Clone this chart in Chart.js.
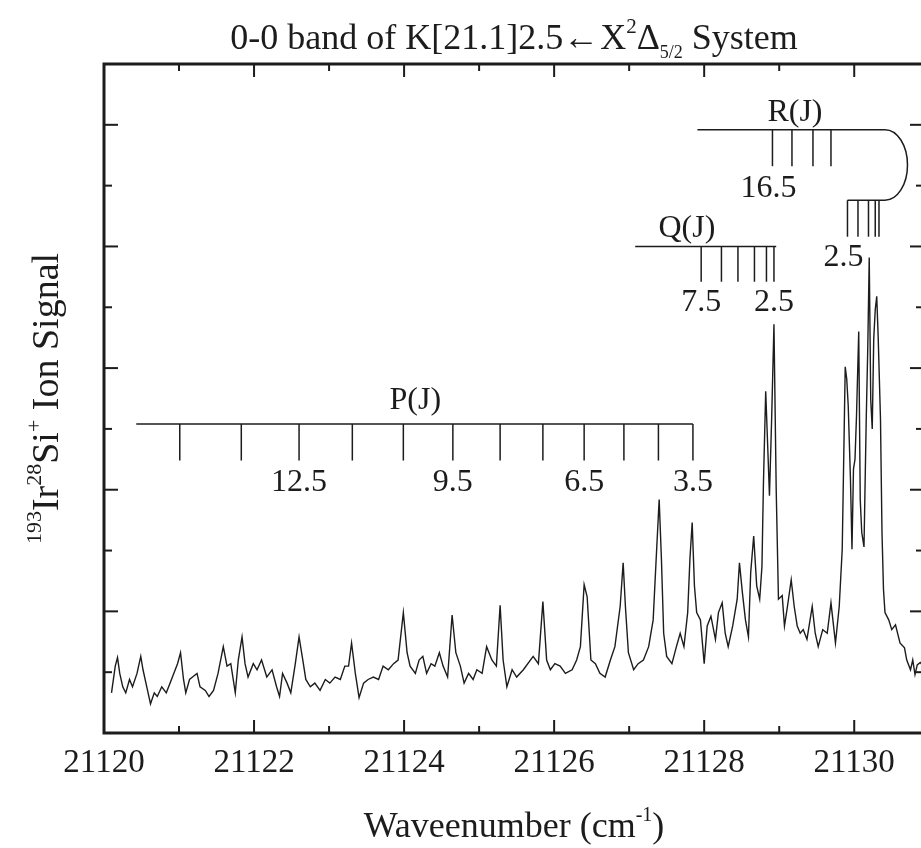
<!DOCTYPE html>
<html>
<head>
<meta charset="utf-8">
<script src="https://cdn.jsdelivr.net/npm/chart.js@4.4.1/dist/chart.umd.min.js"></script>
<style>
  html, body { margin: 0; padding: 0; background: #fff; overflow: hidden; }
  #wrap { width: 930px; height: 848px; }
</style>
</head>
<body>
<div id="wrap"><canvas id="spectrum" width="930" height="848"></canvas></div>
<script>
// spectrum (wavenumber in cm-1, signal in arbitrary units)
const waveNumber = [
  21120.10, 21120.15, 21120.18, 21120.21, 21120.25, 21120.29, 21120.34, 21120.38, 21120.44, 21120.49,
  21120.52, 21120.57, 21120.62, 21120.67, 21120.71, 21120.77, 21120.83, 21120.88, 21120.93, 21120.98,
  21121.02, 21121.06, 21121.09, 21121.14, 21121.18, 21121.24, 21121.28, 21121.35, 21121.40, 21121.46,
  21121.52, 21121.59, 21121.64, 21121.69, 21121.75, 21121.79, 21121.84, 21121.88, 21121.92, 21121.99,
  21122.04, 21122.10, 21122.17, 21122.24, 21122.30, 21122.34, 21122.38, 21122.44, 21122.49, 21122.55,
  21122.60, 21122.65, 21122.69, 21122.75, 21122.81, 21122.88, 21122.95, 21123.01, 21123.08, 21123.15,
  21123.21, 21123.26, 21123.30, 21123.35, 21123.40, 21123.46, 21123.52, 21123.59, 21123.66, 21123.72,
  21123.79, 21123.86, 21123.92, 21123.99, 21124.04, 21124.08, 21124.15, 21124.20, 21124.25, 21124.30,
  21124.36, 21124.41, 21124.47, 21124.52, 21124.58, 21124.64, 21124.69, 21124.75, 21124.80, 21124.86,
  21124.92, 21124.97, 21125.04, 21125.10, 21125.17, 21125.23, 21125.28, 21125.32, 21125.37, 21125.44,
  21125.50, 21125.59, 21125.72, 21125.79, 21125.85, 21125.90, 21125.95, 21126.01, 21126.08, 21126.15,
  21126.24, 21126.30, 21126.35, 21126.40, 21126.44, 21126.49, 21126.55, 21126.61, 21126.68, 21126.75,
  21126.81, 21126.88, 21126.92, 21126.95, 21126.99, 21127.06, 21127.12, 21127.19, 21127.26, 21127.32,
  21127.36, 21127.40, 21127.43, 21127.46, 21127.50, 21127.57, 21127.63, 21127.68, 21127.73, 21127.78,
  21127.81, 21127.84, 21127.87, 21127.90, 21127.95, 21128.00, 21128.04, 21128.09, 21128.15, 21128.19,
  21128.24, 21128.28, 21128.32, 21128.38, 21128.44, 21128.47, 21128.51, 21128.55, 21128.59, 21128.62,
  21128.66, 21128.70, 21128.74, 21128.77, 21128.79, 21128.82, 21128.85, 21128.87, 21128.90, 21128.93,
  21128.96, 21128.99, 21129.04, 21129.07, 21129.11, 21129.16, 21129.20, 21129.24, 21129.28, 21129.32,
  21129.37, 21129.44, 21129.48, 21129.52, 21129.58, 21129.64, 21129.69, 21129.75, 21129.80, 21129.84,
  21129.88, 21129.90, 21129.92, 21129.95, 21129.97, 21129.99, 21130.01, 21130.03, 21130.06, 21130.08,
  21130.10, 21130.13, 21130.16, 21130.18, 21130.20, 21130.22, 21130.24, 21130.26, 21130.28, 21130.30,
  21130.32, 21130.35, 21130.37, 21130.39, 21130.41, 21130.46, 21130.50, 21130.55, 21130.61, 21130.67,
  21130.70, 21130.75, 21130.78, 21130.81, 21130.84, 21130.88, 21130.92, 21130.96
];
const ionSignal = [
  0.33, 0.55, 0.62, 0.49, 0.38, 0.33, 0.44, 0.38, 0.49, 0.63,
  0.52, 0.38, 0.24, 0.33, 0.30, 0.38, 0.33, 0.41, 0.49, 0.57,
  0.66, 0.44, 0.33, 0.44, 0.46, 0.49, 0.38, 0.35, 0.30, 0.35,
  0.49, 0.71, 0.55, 0.57, 0.33, 0.60, 0.79, 0.57, 0.46, 0.57,
  0.52, 0.60, 0.46, 0.52, 0.38, 0.30, 0.49, 0.41, 0.33, 0.57,
  0.79, 0.60, 0.44, 0.38, 0.41, 0.35, 0.44, 0.41, 0.46, 0.44,
  0.55, 0.55, 0.74, 0.49, 0.29, 0.41, 0.44, 0.46, 0.44, 0.55,
  0.52, 0.57, 0.60, 0.99, 0.66, 0.55, 0.49, 0.60, 0.63, 0.49,
  0.57, 0.55, 0.66, 0.55, 0.46, 0.97, 0.66, 0.55, 0.41, 0.49,
  0.44, 0.52, 0.49, 0.71, 0.60, 0.55, 1.05, 0.60, 0.38, 0.52,
  0.46, 0.52, 0.63, 0.57, 1.08, 0.60, 0.52, 0.57, 0.55, 0.49,
  0.52, 0.60, 0.71, 1.22, 1.12, 0.60, 0.57, 0.49, 0.46, 0.60,
  0.71, 1.04, 1.40, 1.04, 0.66, 0.52, 0.57, 0.60, 0.71, 0.93,
  1.43, 1.92, 1.43, 0.82, 0.63, 0.57, 0.71, 0.82, 0.71, 0.99,
  1.43, 1.73, 1.21, 0.99, 0.93, 0.57, 0.88, 0.96, 0.77, 0.99,
  1.07, 0.82, 0.71, 0.88, 1.10, 1.40, 1.15, 0.93, 0.79, 1.32,
  1.62, 1.21, 1.10, 1.37, 2.06, 2.81, 2.30, 1.95, 2.60, 3.36,
  2.00, 1.10, 1.13, 0.88, 1.04, 1.26, 1.04, 0.88, 0.82, 0.85,
  0.77, 1.04, 0.82, 0.71, 0.85, 0.82, 1.07, 0.74, 1.04, 1.51,
  3.01, 2.91, 2.69, 2.08, 1.51, 2.17, 2.25, 2.60, 3.30, 1.92,
  1.65, 1.53, 2.58, 3.15, 3.91, 2.74, 2.50, 3.24, 3.48, 3.59,
  3.24, 2.58, 1.65, 1.18, 0.99, 0.93, 0.85, 0.89, 0.74, 0.70,
  0.60, 0.52, 0.60, 0.48, 0.56, 0.58, 0.55, 0.50
];

// axis ticks (no labels on the signal axis)
const xMajorTicks = [21120, 21122, 21124, 21126, 21128, 21130];
const xMinorTicks = [21121, 21123, 21125, 21127, 21129];
const yMajorTicks = [0, 1, 2, 3, 4, 5];
const yMinorTicks = [0.5, 1.5, 2.5, 3.5, 4.5];

// rotational line assignments
const pBranchX = [21121.01, 21121.83, 21122.60, 21123.31, 21123.99, 21124.65, 21125.28, 21125.85, 21126.40, 21126.93, 21127.39, 21127.85];
const pBranchJ = [14.5, 13.5, 12.5, 11.5, 10.5, 9.5, 8.5, 7.5, 6.5, 5.5, 4.5, 3.5];
const pLabelJ = [12.5, 9.5, 6.5, 3.5];
const qBranchX = [21127.96, 21128.23, 21128.45, 21128.67, 21128.83, 21128.93];
const qBranchJ = [7.5, 6.5, 5.5, 4.5, 3.5, 2.5];
const qLabelJ = [7.5, 2.5];
const rUpperX = [21128.91, 21129.17, 21129.45, 21129.69];
const rUpperJ = [16.5, 15.5, 14.5, 13.5];
const rLowerX = [21129.91, 21130.05, 21130.19, 21130.28, 21130.33];
const rLowerJ = [2.5, 3.5, 4.5, 5.5, 6.5];
const rLabelJ = [16.5, 2.5];

const serif = '"Liberation Serif", "Times New Roman", serif';
const ink = '#1c1c1c';

// draws a run of text pieces (with super/subscripts) centred on cx
function richText(ctx, parts, cx, baseY) {
  let total = 0;
  parts.forEach(p => {
    ctx.font = p.size + 'px ' + serif;
    p.w = ctx.measureText(p.t).width;
    total += p.w + (p.gap || 0);
  });
  let x = cx - total / 2;
  ctx.textAlign = 'left';
  ctx.textBaseline = 'alphabetic';
  parts.forEach(p => {
    ctx.font = p.size + 'px ' + serif;
    ctx.fillText(p.t, x, baseY + (p.dy || 0));
    x += p.w + (p.gap || 0);
  });
}

const branchLayout = {
  p: { start: 21120.43, line: 2.54, tickEnd: 2.24, labelY: 1.99, name: 'P(J)', nameX: 21124.15, nameY: 2.66 },
  q: { start: 21127.08, end: 21128.96, line: 4.00, tickEnd: 3.71, labelY: 3.47, name: 'Q(J)', nameX: 21127.77, nameY: 4.08 },
  r: { start: 21127.91, join: 21130.41, bulge: 21130.71, upper: 4.96, upperEnd: 4.66, upperLabelY: 4.41,
       lower: 4.38, lowerEnd: 4.08, lowerLabelY: 3.84, name: 'R(J)', nameX: 21129.21, nameY: 5.03 }
};

const frame = {
  id: 'frame',
  afterDatasetsDraw(chart) {
    const { ctx, chartArea: a, scales: { x, y } } = chart;
    const seg = (x1, y1, x2, y2) => { ctx.beginPath(); ctx.moveTo(x1, y1); ctx.lineTo(x2, y2); ctx.stroke(); };
    ctx.save();
    ctx.strokeStyle = ink;
    ctx.fillStyle = ink;

    // inward ticks on all four sides
    ctx.lineWidth = 2;
    xMajorTicks.concat(xMinorTicks).forEach(v => {
      const px = x.getPixelForValue(v);
      const len = xMajorTicks.includes(v) ? 13 : 7;
      seg(px, a.bottom, px, a.bottom - len);
      seg(px, a.top, px, a.top + len);
    });
    yMajorTicks.concat(yMinorTicks).forEach(v => {
      const py = y.getPixelForValue(v);
      const len = yMajorTicks.includes(v) ? 14 : 8;
      seg(a.left, py, a.left + len, py);
      seg(a.right, py, a.right - len, py);
    });
    ctx.lineWidth = 3;
    ctx.strokeRect(a.left, a.top, a.right - a.left, a.bottom - a.top);

    // branch markers
    ctx.lineWidth = 1.5;
    ctx.font = '32px ' + serif;
    ctx.textAlign = 'center';
    ctx.textBaseline = 'alphabetic';

    const P = branchLayout.p;
    seg(x.getPixelForValue(P.start), y.getPixelForValue(P.line), x.getPixelForValue(pBranchX[pBranchX.length - 1]), y.getPixelForValue(P.line));
    pBranchX.forEach((v, i) => {
      const px = x.getPixelForValue(v);
      seg(px, y.getPixelForValue(P.line), px, y.getPixelForValue(P.tickEnd));
      if (pLabelJ.includes(pBranchJ[i])) ctx.fillText(pBranchJ[i].toFixed(1), px, y.getPixelForValue(P.labelY));
    });
    ctx.fillText(P.name, x.getPixelForValue(P.nameX), y.getPixelForValue(P.nameY));

    const Q = branchLayout.q;
    seg(x.getPixelForValue(Q.start), y.getPixelForValue(Q.line), x.getPixelForValue(Q.end), y.getPixelForValue(Q.line));
    qBranchX.forEach((v, i) => {
      const px = x.getPixelForValue(v);
      seg(px, y.getPixelForValue(Q.line), px, y.getPixelForValue(Q.tickEnd));
      if (qLabelJ.includes(qBranchJ[i])) ctx.fillText(qBranchJ[i].toFixed(1), px, y.getPixelForValue(Q.labelY));
    });
    ctx.fillText(Q.name, x.getPixelForValue(Q.nameX), y.getPixelForValue(Q.nameY));

    const R = branchLayout.r;
    const joinX = x.getPixelForValue(R.join);
    const upY = y.getPixelForValue(R.upper), loY = y.getPixelForValue(R.lower);
    seg(x.getPixelForValue(R.start), upY, joinX, upY);
    seg(x.getPixelForValue(rLowerX[0]), loY, joinX, loY);
    ctx.beginPath();
    ctx.ellipse(joinX, (upY + loY) / 2, x.getPixelForValue(R.bulge) - joinX, (loY - upY) / 2, 0, -Math.PI / 2, Math.PI / 2);
    ctx.stroke();
    rUpperX.forEach((v, i) => {
      const px = x.getPixelForValue(v);
      seg(px, upY, px, y.getPixelForValue(R.upperEnd));
      if (rLabelJ.includes(rUpperJ[i])) ctx.fillText(rUpperJ[i].toFixed(1), px - 4, y.getPixelForValue(R.upperLabelY));
    });
    rLowerX.forEach((v, i) => {
      const px = x.getPixelForValue(v);
      seg(px, loY, px, y.getPixelForValue(R.lowerEnd));
      if (rLabelJ.includes(rLowerJ[i])) ctx.fillText(rLowerJ[i].toFixed(1), px - 4, y.getPixelForValue(R.lowerLabelY));
    });
    ctx.fillText(R.name, x.getPixelForValue(R.nameX), y.getPixelForValue(R.nameY));

    // title and axis titles
    const mid = (a.left + a.right) / 2;
    richText(ctx, [
      { t: '0-0 band of K[21.1]2.5', size: 36 },
      { t: '\u2190', size: 36, gap: 1 },
      { t: 'X', size: 36 },
      { t: '2', size: 21, dy: -16 },
      { t: '\u0394', size: 36 },
      { t: '5/2', size: 18, dy: 9 },
      { t: ' System', size: 36 }
    ], mid, 49);
    richText(ctx, [
      { t: 'Waveenumber (cm', size: 36 },
      { t: '-1', size: 20, dy: -16 },
      { t: ')', size: 36 }
    ], mid, 837);
    ctx.translate(58, (a.top + a.bottom) / 2);
    ctx.rotate(-Math.PI / 2);
    richText(ctx, [
      { t: '193', size: 22, dy: -17 },
      { t: 'Ir', size: 38 },
      { t: '28', size: 22, dy: -17 },
      { t: 'Si', size: 38 },
      { t: '+', size: 22, dy: -17 },
      { t: ' Ion Signal', size: 38 }
    ], 0, 0);
    ctx.restore();
  }
};

new Chart(document.getElementById('spectrum'), {
  type: 'line',
  data: {
    datasets: [{
      data: waveNumber.map((w, i) => ({ x: w, y: ionSignal[i] })),
      borderColor: ink,
      borderWidth: 1.4,
      pointRadius: 0,
      tension: 0,
      fill: false
    }]
  },
  options: {
    responsive: false,
    animation: false,
    layout: { padding: { top: 64, right: 6, left: 0, bottom: 0 } },
    plugins: { legend: { display: false }, tooltip: { enabled: false } },
    scales: {
      x: {
        type: 'linear',
        min: 21120,
        max: 21130.93,
        grid: { display: false, drawTicks: false },
        border: { display: false },
        afterBuildTicks: s => { s.ticks = xMajorTicks.map(v => ({ value: v })); },
        ticks: {
          autoSkip: false,
          maxRotation: 0,
          padding: 11,
          color: ink,
          font: { family: serif, size: 33 },
          callback: v => String(v)
        },
        afterFit: s => { s.height = 115; }
      },
      y: {
        min: 0,
        max: 5.5,
        grid: { display: false, drawTicks: false },
        border: { display: false },
        ticks: { display: false },
        afterFit: s => { s.width = 104; }
      }
    }
  },
  plugins: [frame]
});
</script>
</body>
</html>
